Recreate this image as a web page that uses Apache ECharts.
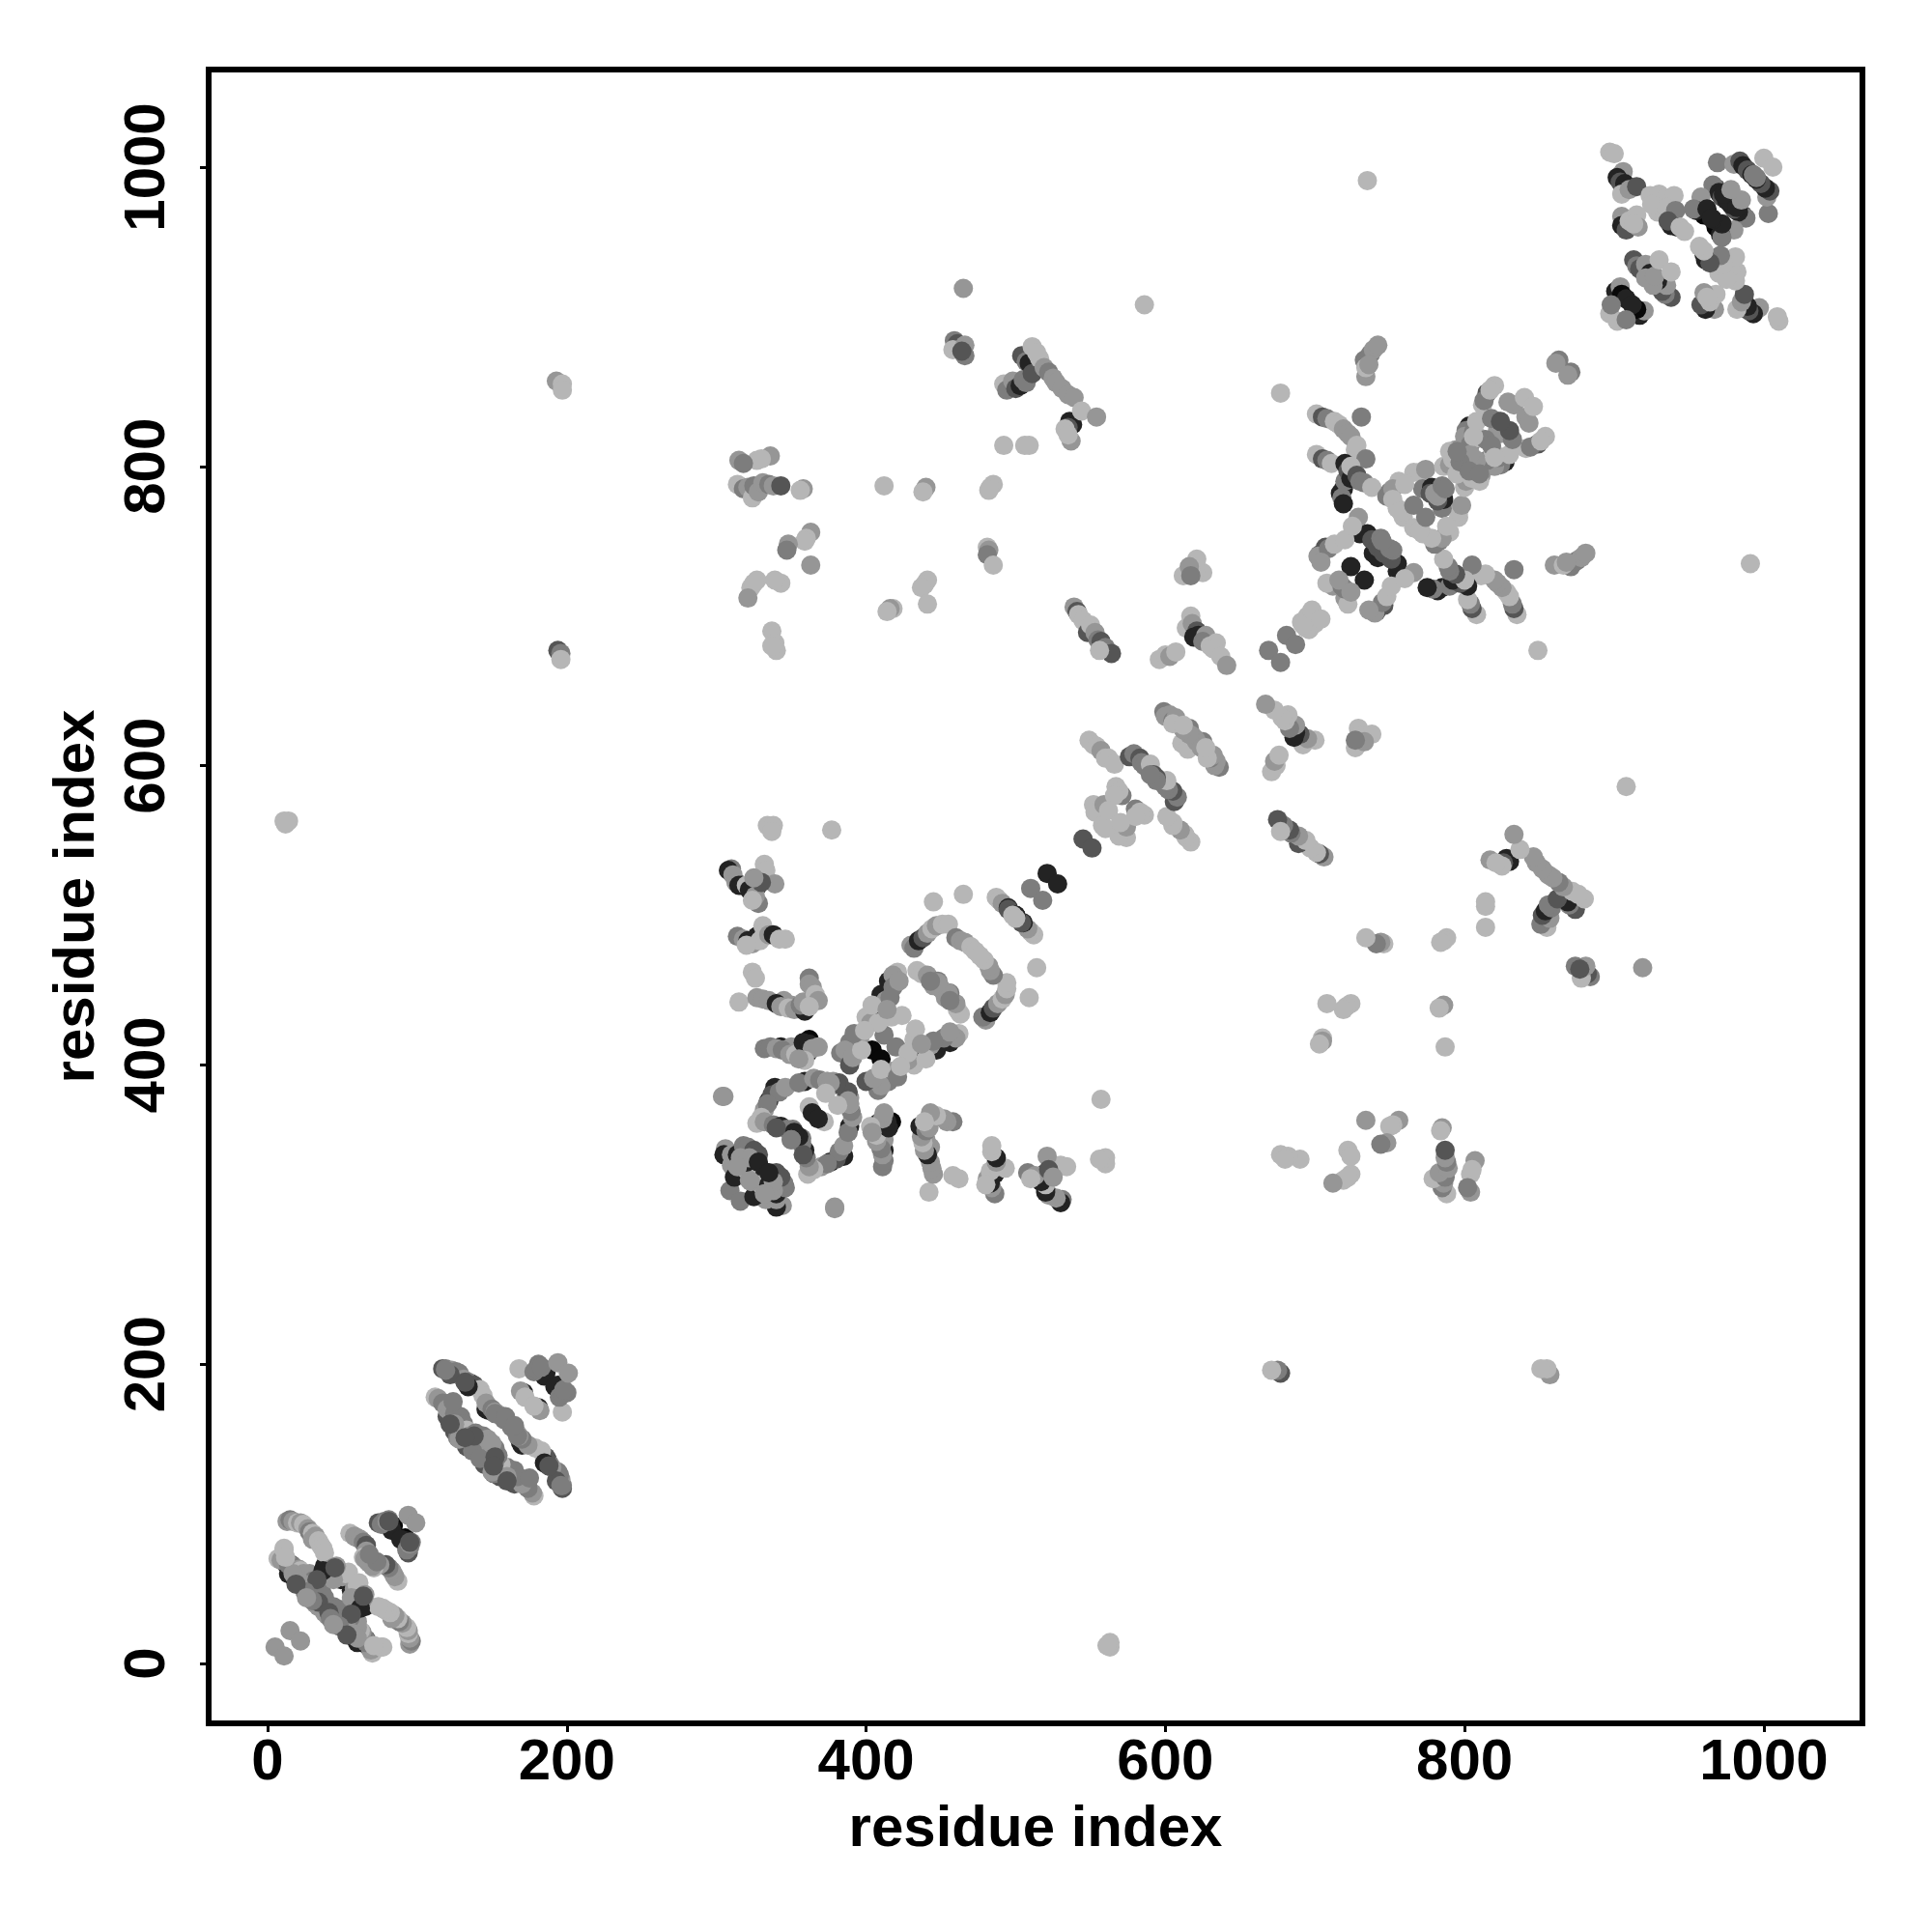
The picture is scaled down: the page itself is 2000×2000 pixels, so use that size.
<!DOCTYPE html>
<html><head><meta charset="utf-8">
<style>html,body{margin:0;padding:0;background:#fff}#c{width:2000px;height:2000px}</style>
<script src="https://cdn.jsdelivr.net/npm/echarts@6/dist/echarts.min.js"></script>
</head><body><div id="c"></div>
<script>
const L=182,M=150,G=125,D=85,K=35,B=8;
const tickValues=[0,200,400,600,800,1000];
const axisTitle="residue index";
// contacts above the diagonal: [residue i, residue j, grey level]; the map is symmetric
const domainA=[
[12,67,K],[16,66,D],[24,60,K],[28,55,K],[20,62,K],[18,57,K],[38,65,K],[48,58,B],[49,56,K],[36,60,K],[27,55,K],[14,60,K],[84,92,B],[82,92,K],[74,94,D],[83,89,K],
[13,95,M],[15,96,G],[17,95,M],[20,94,L],[22,94,M],[24,93,L],[27,90,M],[28,88,G],[30,87,L],[32,85,M],[30,83,M],[34,82,L],[35,80,L],[36,78,L],[37,77,L],[38,74,L],
[7,70,L],[11,77,L],[9,69,M],[14,66,G],[17,65,G],[21,63,M],[22,62,L],[24,60,M],[26,57,M],[25,52,M],[28,55,G],[28,60,M],[30,55,G],[31,54,M],[32,50,M],[30,47,G],[34,47,G],[36,49,G],[36,45,D],[33,42,M],[32,40,M],[38,44,G],[36,46,G],[34,38,M],[20,57,M],[23,52,M],[28,47,G],[17,60,M],[11,76,L],[12,71,L],
[44,64,G],[42,63,M],[47,61,M],[50,58,M],[52,60,L],[54,61,L],[46,65,M],[44,56,M],
[55,87,L],[58,85,M],[60,84,M],[62,83,M],[64,81,G],[66,79,D],[66,75,M],[64,71,L],[65,70,M],[67,68,M],[70,67,M],[73,68,G],
[76,93,G],[78,95,G],[80,95,M],[81,96,G],[81,95,D],[94,99,M],
[15,22,M],[5,11,M],
[37,62,K],[34,41,D],[45,64,D],[33,56,D],[25,48,G],[19,53,D],[30,42,G],[26,44,M]
];
const domainB=[
[137,148,K],[148,169,K],[136,187,K],[171,181,K],[186,194,K],[185,192,K],[117,197,D],[118,174,G],[146,170,K],[133,148,K],[130,152,D],[125,155,D],[120,165,D],[140,150,K],
[119,197,G],[123,196,M],[126,195,G],[128,194,G],[131,190,M],[134,188,G],[138,186,D],[142,183,L],[144,179,L],[146,174,M],[150,170,G],[152,168,M],[155,166,M],[158,163,G],
[112,178,L],[114,177,M],[117,174,G],[120,170,M],[122,168,M],[125,167,G],[129,165,G],[127,151,G],[129,158,M],[131,160,G],[133,156,L],[133,145,D],[135,152,M],[139,154,G],[142,152,G],[144,152,G],[140,146,M],[137,142,G],[147,150,M],[125,160,M],[128,150,M],
[168,197,L],[178,195,G],[181,200,G],[180,197,G],[183,198,G],[194,201,M],[169,182,M],[172,178,L],
[122,193,D],[134,185,K],[138,152,D],[122,160,D],[132,151,D],[152,167,G],[124,175,G],[159,165,G],[132,188,D],[119,196,G]
];
const domainC=[
[306,344,M],[305,340,K],[310,340,M],[310,333,M],[314,340,K],[318,346,G],[321,345,G],[328,340,D],[325,343,D],[329,331,K],[317,327,M],[309,316,G],[312,325,K],[320,330,L],[323,322,M],[320,335,K],[316,338,M],[322,338,M],[328,335,K],[314,332,M],
[335,376,K],[339,385,K],[337,380,D],[342,382,G],[346,385,M],[332,370,M],[334,374,G],[327,361,L],[330,365,L],[359,389,K],[355,388,G],[365,391,M],[369,390,G],[374,389,L],[378,389,M],[382,388,D],[387,380,D],[389,374,M],[388,376,M],[362,372,L],[364,368,K],[373,381,L],[305,379,M],[304,379,M],
[332,362,M],[338,360,G],[343,359,K],[347,357,G],[351,357,G],[355,352,K],[350,350,G],[340,358,D],
[360,413,K],[358,410,K],[361,408,K],[362,417,B],[343,412,K],[345,410,G],[349,408,G],[350,412,M],[350,440,M],[345,443,M],
[310,531,G],[308,530,K],[311,527,M],[313,522,M],[315,520,K],[317,520,K],[320,520,L],[322,517,K],[327,519,K],[328,508,G],[332,534,L],[333,530,L],[339,521,M],[326,513,M],[324,510,L],[330,522,D],[325,525,M],
[314,486,G],[318,484,M],[321,483,K],[324,481,M],[327,486,K],[329,483,L],[331,493,L],[332,488,L],[335,487,M],[338,487,K],[342,484,L],[346,484,L],[320,480,L],
[324,462,L],[326,458,L],[315,442,L],[327,445,M],[331,444,M],[335,443,M],[340,441,K],[343,439,M],[348,438,L],[352,437,M],[359,436,K],[356,440,G],[358,442,M],[362,458,G],[362,454,M],[364,452,M],[366,447,L],[368,443,M],[362,439,L],
[332,411,G],[336,412,G],[340,411,M],[344,410,G],[349,407,M],[353,407,L],[358,415,K],[362,414,K],[364,411,M],[368,412,M],[359,403,L],[355,404,M],
[415,456,K],[410,447,K],[407,436,K],[404,410,B],[421,462,L],[418,460,M],[418,452,G],[422,456,M],[413,443,M],[416,445,G],[417,432,L],[424,433,L],[400,432,L],[403,428,M],[404,440,L],[389,415,G],[383,408,G],[386,410,M],[389,400,D],[391,405,M],[412,420,G],[396,419,M],[397,410,L],[392,421,G],[408,428,L],[414,437,M],[399,423,L],
[434,463,L],[437,461,L],[441,460,M],[445,453,M],[448,456,G],[451,450,M],[455,448,M],[456,443,G],
[430,480,M],[432,478,G],[435,483,K],[438,485,D],[441,488,M],[444,491,L],[447,493,M],[451,494,L],[455,494,L],[460,485,G],[463,483,M],[466,482,M],[470,479,L],[473,476,L],
[445,509,L],[465,514,L],[487,512,L],[489,510,L],[491,508,M],[495,505,K],[495,504,D],[500,500,K],[498,500,L],
[510,518,G],[521,528,K],[545,551,D],[377,557,L],[334,560,L],[338,560,L],[337,556,L]
];
const domainD=[
[465,919,M],[459,884,G],[461,882,D],[458,878,L],[466,881,M],[466,874,G],[464,877,D],
[492,855,L],[494,851,G],[498,857,M],[500,852,D],[503,854,K],[505,858,G],[507,856,G],[504,874,D],[507,870,G],[509,869,K],[511,862,D],[511,880,L],[516,872,L],[514,876,L],[519,866,M],[522,863,G],[525,859,M],[527,856,M],[531,852,M],[535,848,M],[539,846,M],[536,830,K],[538,828,K],[535,826,D],[544,837,L],[554,833,M],[533,825,L],[537,817,M],[535,821,L],[492,814,L],[506,814,L],[509,814,L],
[336,807,M],[327,804,L],[330,805,L],[315,804,M],[318,802,G],
[314,788,L],[318,785,G],[321,786,M],[324,779,L],[325,787,G],[328,783,M],[331,789,M],[335,788,G],[338,787,M],[343,787,D],[358,785,M],[356,784,L],
[412,787,L],[440,786,M],[438,783,L],[485,788,L],[483,786,L],[482,784,L],
[363,756,M],[360,752,L],[359,750,L],[348,748,M],[347,744,G],[363,734,M],
[327,724,L],[323,719,L],[325,722,L],[343,722,L],[339,724,L],[321,712,M],[337,690,L],[339,682,L],[340,677,L],[337,680,L],
[441,724,L],[439,721,L],[437,719,L],[441,708,L],[418,705,L],[416,705,M],[414,703,L],
[481,746,L],[482,744,M],[481,741,G],[485,734,L],[677,849,L],
[193,857,M],[197,855,L],[197,851,L],[194,677,D],[196,675,G],[196,671,L],[11,563,L],[14,563,L],[12,561,L],[586,908,L],[735,991,L]
];
const domainE=[
[539,706,M],[541,703,D],[542,701,L],[545,697,L],[548,689,D],[550,694,L],[553,689,M],[555,684,G],[557,683,D],[560,679,G],[564,675,D],[556,677,L],
[617,700,L],[614,692,L],[618,695,M],[621,690,D],[619,686,K],[622,687,K],[627,687,M],[625,683,G],[630,680,L],[634,682,L],[632,678,L],[637,673,L],[641,667,M],[596,671,L],[600,674,L],[603,673,M],[607,676,L],
[669,677,G],[681,687,G],[691,696,L],[695,700,L],[694,692,L],[698,704,L],
[599,636,G],[600,633,M],[603,634,M],[605,630,G],[609,628,G],[607,632,M],[612,626,M],[614,622,L],[616,625,G],[611,615,L],[618,620,M],[621,616,M],[624,612,M],[628,605,L],
[549,617,L],[552,614,L],[554,613,L],[557,610,M],[560,605,L],[562,605,L],[566,601,L],[567,586,L],[571,580,G],[569,583,L],[552,574,L],[553,569,L],[559,574,M],[566,580,L],[558,560,L],[562,570,L],
[576,606,D],[579,608,G],[583,605,D],[584,602,G],[586,600,G],[590,601,L],[592,594,D],[594,590,G],
[625,729,L],[620,730,L],[621,738,L],[612,727,L],[616,733,M],[617,727,G],
[612,627,L]
];
const domainF=[
[734,860,M],[733,871,G],[737,875,G],[739,878,M],[742,881,M],[734,866,L],[736,868,M],
[701,835,L],[705,833,D],[708,832,G],[713,830,L],[716,828,L],[719,825,M],[722,822,M],[724,820,M],[727,811,L],[728,814,L],[731,833,G],[734,805,G],
[701,808,L],[705,805,D],[708,804,G],[711,802,L],[720,802,K],[719,785,K],[717,782,K],[720,790,G],[722,797,D],[724,792,K],[724,800,L],[728,794,D],[730,790,G],[733,789,G],[738,786,L],[718,779,G],[719,775,K],
[730,755,K],[735,755,K],[739,742,K],[724,733,K],[707,746,D],[703,741,D],[738,751,D],[742,746,D],[702,740,M],[709,745,G],[713,748,L],[720,751,L],[729,766,M],[725,760,L],[744,752,G],[750,745,G],[712,720,M],[708,722,L],[718,720,G],[716,724,M],[704,736,M],
[756,790,L],[750,783,G],[748,780,G],[752,785,M],[755,772,L],[752,778,L],[759,766,L],[757,770,L],[766,774,G],[766,796,L],[770,796,L],[774,798,M],[772,785,G],[778,786,K],[777,782,D],[782,780,M],[760,788,L],
[786,800,L],[790,801,M],[792,805,L],[794,811,M],[790,810,L],[796,806,L],[799,803,G],[800,812,L],[803,827,K],[801,824,G],[800,820,M],[804,815,G],[806,823,G],[810,819,L],[808,830,L],[812,841,L],[815,849,D],[813,844,G],[820,854,L],[817,851,L],[822,830,D],[824,827,D],[833,841,M],[829,843,M],[824,822,M],[840,846,L],[795,795,L],[802,806,M],[808,804,M],[814,818,G],
[806,820,L],[818,832,G],[797,803,G],[785,787,G],[830,824,D],[795,810,G],
[863,871,G],[861,869,M]
];
const domainG=[
[897,1010,L],[900,1009,L],[906,997,M],[902,993,K],[904,990,D],[907,989,K],[905,982,L],[910,985,M],[915,987,D],[924,981,L],[930,982,L],[934,979,L],[940,981,L],[929,970,L],[925,975,L],[935,973,L],
[905,967,M],[905,961,K],[908,958,D],[910,964,L],[915,968,L],[916,960,M],[913,962,L],
[969,1003,G],[980,1002,M],[984,1004,D],[986,1001,K],[989,998,D],[992,995,K],[995,993,G],[1000,1006,L],
[968,986,D],[966,988,G],[970,983,K],[972,980,D],[975,982,M],[978,975,K],[982,973,K],[985,978,M],[958,980,M],[960,968,B],[955,971,K],[953,972,G],[962,972,K],[966,965,K],[941,971,G],[938,961,K],[942,960,K],[936,964,D],[944,960,L],[947,957,L],
[913,938,D],[915,934,G],[917,932,D],[921,935,M],[924,929,K],[921,926,M],[927,927,M],[930,938,L],
[901,917,K],[904,920,M],[905,915,B],[908,912,K],[897,902,L],[898,908,G]
];
const chartData=[];
for(const group of [domainA,domainB,domainC,domainD,domainE,domainF,domainG]){
  for(const p of group){
    chartData.push([p[0],p[1],p[2]]);
    chartData.push([p[1],p[0],p[2]]);
  }
}
const labelFont={fontFamily:'"Liberation Sans"',fontWeight:'bold',fontSize:60,color:'#000'};
const chart=echarts.init(document.getElementById('c'),null,{renderer:'canvas'});
chart.setOption({
  animation:false,
  backgroundColor:'#fff',
  grid:{left:216,right:72,top:72,bottom:216,show:true,borderColor:'#000',borderWidth:6,backgroundColor:'transparent'},
  xAxis:{type:'value',min:-39.4,max:1065.9,
    splitLine:{show:false},axisLine:{show:false,onZero:false},
    axisTick:{show:true,length:9,lineStyle:{color:'#000',width:3},customValues:tickValues},
    axisLabel:Object.assign({show:true,margin:11,customValues:tickValues,formatter:v=>String(v)},labelFont),
    name:axisTitle,nameLocation:'middle',nameGap:80,nameTextStyle:labelFont},
  yAxis:{type:'value',min:-40,max:1065.2,
    splitLine:{show:false},axisLine:{show:false,onZero:false},
    axisTick:{show:true,length:9,lineStyle:{color:'#000',width:3},customValues:tickValues},
    axisLabel:Object.assign({show:true,rotate:90,margin:33,customValues:tickValues,formatter:v=>String(v)},labelFont),
    name:axisTitle,nameLocation:'middle',nameGap:106,nameTextStyle:labelFont},
  series:[{type:'scatter',symbol:'circle',symbolSize:20,silent:true,data:chartData,
    itemStyle:{opacity:1,color:function(p){const g=p.value[2];return 'rgb('+g+','+g+','+g+')';}}}]
});
</script></body></html>
